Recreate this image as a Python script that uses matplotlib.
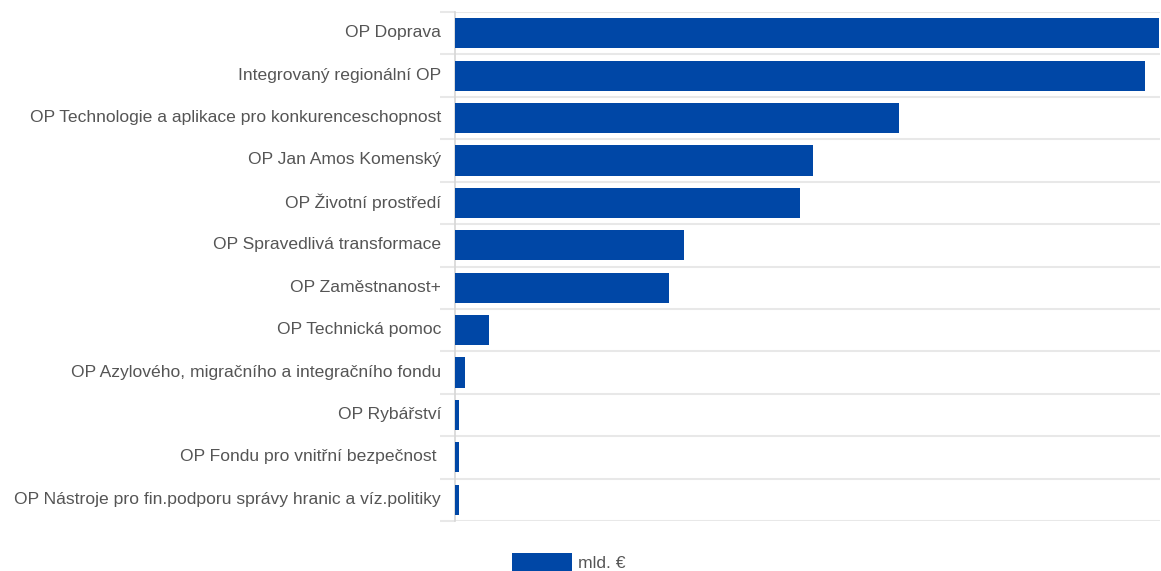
import numpy as np
import matplotlib.pyplot as plt
import matplotlib.transforms as mtransforms

plt.rcParams['font.family'] = ['Liberation Sans', 'DejaVu Sans']

# operační programy 2021-2027, alokace v mld. EUR
programy = [
    'OP Doprava',
    'Integrovaný regionální OP',
    'OP Technologie a aplikace pro konkurenceschopnost',
    'OP Jan Amos Komenský',
    'OP Životní prostředí',
    'OP Spravedlivá transformace',
    'OP Zaměstnanost+',
    'OP Technická pomoc',
    'OP Azylového, migračního a integračního fondu',
    'OP Rybářství',
    'OP Fondu pro vnitřní bezpečnost ',
    'OP Nástroje pro fin.podporu správy hranic a víz.politiky',
]
alokace = [4.90, 4.80, 3.09, 2.49, 2.40, 1.59, 1.49, 0.235, 0.07, 0.03, 0.03, 0.03]
serie = 'mld. €'

barva = '#0047A6'
seda = '#e8e8e8'
text_barva = '#555555'

fig = plt.figure(figsize=(11.61, 5.71), dpi=100)
ax = fig.add_axes([455/1161, 1-521/571, 705/1161, 509/571])

y = np.arange(len(programy))
ax.barh(y, alokace, height=0.71, color=barva, label=serie, zorder=3)

ax.set_ylim(len(programy)-0.5, -0.5)
ax.set_xlim(0, alokace[0]*1.001)

ax.set_yticks(y)
ax.set_yticklabels(programy, fontsize=12.6, color=text_barva)
ax.tick_params(axis='y', which='major', length=0, pad=10)
# popisky trochu vys, jako v originale
posun = mtransforms.ScaledTranslation(0, 2/100, fig.dpi_scale_trans)
for lab in ax.get_yticklabels():
    lab.set_transform(lab.get_transform() + posun)

ax.set_yticks(np.arange(-0.5, len(programy)), minor=True)
ax.tick_params(axis='y', which='minor', length=11, color=seda, width=1.5)
ax.grid(axis='y', which='minor', color=seda, linewidth=1.5, zorder=0)
ax.set_xticks([])

for s in ['top', 'right', 'bottom']:
    ax.spines[s].set_visible(False)
ax.spines['left'].set_color('#d6d6d6')
ax.spines['left'].set_linewidth(1.2)

fig.legend(loc='upper left', bbox_to_anchor=(512/1161, 1-553/571), frameon=False,
           borderpad=0, borderaxespad=0, handlelength=3.4, handleheight=1.3,
           handletextpad=0.4, fontsize=12.6, labelcolor=text_barva)

fig.savefig('out.png', dpi=100)
